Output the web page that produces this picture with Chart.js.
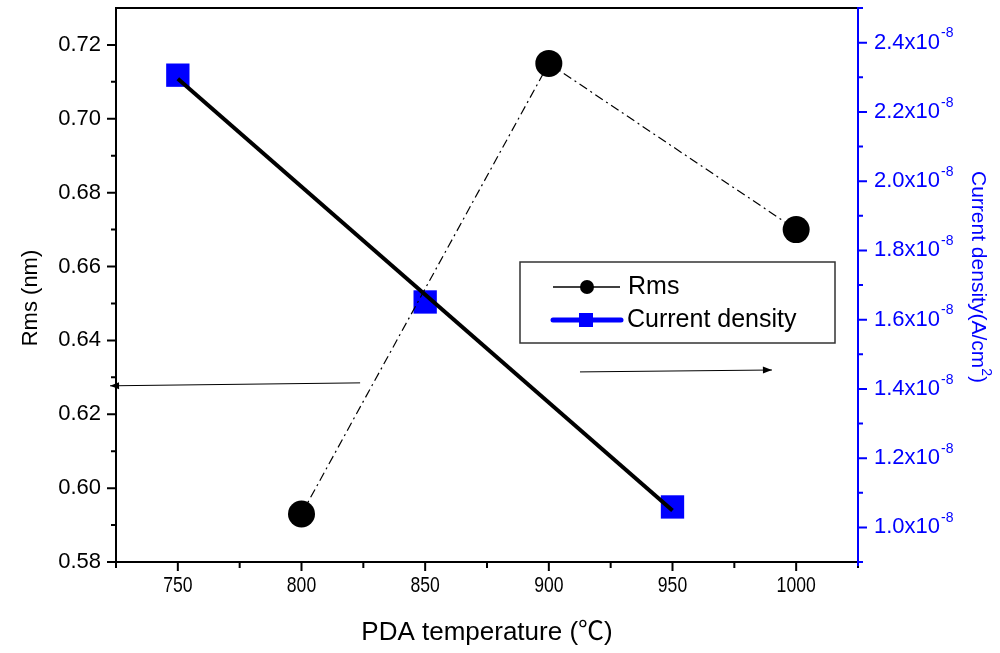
<!DOCTYPE html>
<html>
<head>
<meta charset="utf-8">
<script src="https://cdn.jsdelivr.net/npm/chart.js@4.4.0/dist/chart.umd.min.js"></script>
<style>
  html, body { margin: 0; padding: 0; background: #fff; }
  #wrap { width: 1000px; height: 653px; }
</style>
</head>
<body>
<div id="wrap"><canvas id="chart" width="1000" height="653"></canvas></div>
<script>
// surface roughness vs post deposition anneal temperature
const rmsTemps = [800, 900, 1000];
const rmsValues = [0.593, 0.715, 0.670];       // nm

// leakage current density, in units of 1e-8 A/cm2
const jTemps = [750, 850, 950];
const jValues = [2.306, 1.651, 1.059];

// straight line fitted through the current density points
const jFitTemps = [750, 950];
const jFitValues = [2.296, 1.049];

const tempTicks = [750, 800, 850, 900, 950, 1000];
const rmsTicks = [0.58, 0.60, 0.62, 0.64, 0.66, 0.68, 0.70, 0.72];
const jTicks = [1.0, 1.2, 1.4, 1.6, 1.8, 2.0, 2.2, 2.4];

// arrows telling which axis each curve belongs to: [tail, tip]
const rmsArrow = [[823.7, 0.6285], [722.6, 0.6277]];
const jArrow = [[912.6, 1.449], [990.2, 1.4545]];

const SANS = "'Liberation Sans', Arial, 'Noto Sans CJK SC', sans-serif";
const BLUE = '#0000ff';

const toTicks = list => scale => { scale.ticks = list.map(v => ({ value: v })); };

// fixed axis boxes so the plot area lands where it should
const fixBox = size => scale => {
    if (scale.isHorizontal()) scale.height = size; else scale.width = size;
    scale.paddingTop = scale.paddingBottom = scale.paddingLeft = scale.paddingRight = 0;
};

// midpoints between major ticks, plus one half step past each end when inside the range
function minorValues(list, min, max) {
    const step = list[1] - list[0];
    const out = [];
    for (let v = list[0] - step / 2; v <= max + 1e-9; v += step) {
        if (v >= min - 1e-9) out.push(v);
    }
    return out;
}

// text along a vertical line, with an optional raised part: parts = [[text, size, rise], ...]
function verticalText(ctx, cx, cy, angle, parts, color) {
    ctx.save();
    ctx.translate(cx, cy);
    ctx.rotate(angle);
    ctx.fillStyle = color;
    ctx.textAlign = 'left';
    ctx.textBaseline = 'middle';
    const widths = parts.map(([t, s]) => { ctx.font = s + 'px ' + SANS; return ctx.measureText(t).width; });
    let tx = -widths.reduce((p, w) => p + w, 0) / 2;
    parts.forEach(([t, s, rise], i) => {
        ctx.font = s + 'px ' + SANS;
        ctx.fillText(t, tx, -rise);
        tx += widths[i];
    });
    ctx.restore();
}

const axesFrame = {
    id: 'axesFrame',
    afterDraw(chart) {
        const { ctx, chartArea: a, scales } = chart;
        const x = scales.x, yl = scales.yRms, yr = scales.yJ;
        ctx.save();
        ctx.lineWidth = 2;
        ctx.lineCap = 'butt';

        // frame
        ctx.strokeStyle = '#000';
        ctx.beginPath();
        ctx.moveTo(a.left, a.top); ctx.lineTo(a.right, a.top);
        ctx.moveTo(a.left, a.top - 1); ctx.lineTo(a.left, a.bottom + 1);
        ctx.moveTo(a.left - 1, a.bottom); ctx.lineTo(a.right, a.bottom);
        ctx.stroke();

        // x ticks
        const tick = (px, len) => { ctx.moveTo(px, a.bottom); ctx.lineTo(px, a.bottom + len); };
        ctx.beginPath();
        tempTicks.forEach(v => tick(x.getPixelForValue(v), 9));
        minorValues(tempTicks, x.min, x.max).forEach(v => tick(x.getPixelForValue(v), 6));
        ctx.stroke();

        // x tick labels, set in a narrow face
        ctx.fillStyle = '#000';
        ctx.textAlign = 'center';
        ctx.textBaseline = 'middle';
        ctx.font = '22px ' + SANS;
        tempTicks.forEach(v => {
            ctx.save();
            ctx.translate(x.getPixelForValue(v), a.bottom + 24);
            ctx.scale(0.8, 1);
            ctx.fillText(String(v), 0, 0);
            ctx.restore();
        });

        // left ticks and labels
        ctx.beginPath();
        rmsTicks.forEach(v => { const py = yl.getPixelForValue(v); ctx.moveTo(a.left, py); ctx.lineTo(a.left - 9, py); });
        minorValues(rmsTicks, yl.min, yl.max - 0.005).forEach(v => { const py = yl.getPixelForValue(v); ctx.moveTo(a.left, py); ctx.lineTo(a.left - 5, py); });
        ctx.stroke();
        ctx.textAlign = 'right';
        rmsTicks.forEach(v => ctx.fillText(v.toFixed(2), a.left - 15, yl.getPixelForValue(v)));

        // right axis in blue
        ctx.strokeStyle = BLUE;
        ctx.beginPath();
        ctx.moveTo(a.right, a.top - 1); ctx.lineTo(a.right, a.bottom + 4);
        jTicks.forEach(v => { const py = yr.getPixelForValue(v); ctx.moveTo(a.right, py); ctx.lineTo(a.right + 9, py); });
        minorValues(jTicks, yr.min, yr.max).forEach(v => { const py = yr.getPixelForValue(v); ctx.moveTo(a.right, py); ctx.lineTo(a.right + 5, py); });
        ctx.stroke();

        // right tick labels with a raised exponent
        ctx.fillStyle = BLUE;
        ctx.textAlign = 'left';
        jTicks.forEach(v => {
            const py = yr.getPixelForValue(v);
            ctx.font = '22px ' + SANS;
            const base = v.toFixed(1) + 'x10';
            ctx.fillText(base, a.right + 16, py);
            const w = ctx.measureText(base).width;
            ctx.font = '14px ' + SANS;
            ctx.fillText('-8', a.right + 16 + w + 1, py - 9);
        });
        ctx.restore();

        // axis titles on both sides
        verticalText(ctx, 31, 298, -Math.PI / 2, [['Rms (nm)', 22, 0]], '#000');
        verticalText(ctx, 978, 277, Math.PI / 2,
            [['Current density(A/cm', 21, 0], ['2', 14, 8], [')', 21, 0]], BLUE);
    }
};

const notes = {
    id: 'notes',
    afterDraw(chart) {
        const { ctx, chartArea: a, scales } = chart;
        const x = scales.x, yl = scales.yRms, yr = scales.yJ;
        ctx.save();

        // arrows
        const arrow = (x0, y0, x1, y1) => {
            ctx.strokeStyle = '#000'; ctx.fillStyle = '#000'; ctx.lineWidth = 1;
            ctx.beginPath(); ctx.moveTo(x0, y0); ctx.lineTo(x1, y1); ctx.stroke();
            const ang = Math.atan2(y1 - y0, x1 - x0), L = 9, W = 3.5;
            ctx.beginPath();
            ctx.moveTo(x1, y1);
            ctx.lineTo(x1 - L * Math.cos(ang) + W * Math.sin(ang), y1 - L * Math.sin(ang) - W * Math.cos(ang));
            ctx.lineTo(x1 - L * Math.cos(ang) - W * Math.sin(ang), y1 - L * Math.sin(ang) + W * Math.cos(ang));
            ctx.closePath(); ctx.fill();
        };
        arrow(x.getPixelForValue(rmsArrow[0][0]), yl.getPixelForValue(rmsArrow[0][1]),
              x.getPixelForValue(rmsArrow[1][0]), yl.getPixelForValue(rmsArrow[1][1]));
        arrow(x.getPixelForValue(jArrow[0][0]), yr.getPixelForValue(jArrow[0][1]),
              x.getPixelForValue(jArrow[1][0]), yr.getPixelForValue(jArrow[1][1]));

        // legend box
        const bx = a.left + 404, by = a.top + 254, bw = 315, bh = 81;
        ctx.strokeStyle = '#333'; ctx.lineWidth = 1.5;
        ctx.strokeRect(bx, by, bw, bh);

        const r1 = by + 25, r2 = by + 58;
        ctx.strokeStyle = '#000'; ctx.lineWidth = 1.5;
        ctx.beginPath(); ctx.moveTo(bx + 33, r1); ctx.lineTo(bx + 100, r1); ctx.stroke();
        ctx.fillStyle = '#000';
        ctx.beginPath(); ctx.arc(bx + 67, r1, 7, 0, Math.PI * 2); ctx.fill();

        ctx.strokeStyle = BLUE; ctx.lineWidth = 5; ctx.lineCap = 'round';
        ctx.beginPath(); ctx.moveTo(bx + 33, r2); ctx.lineTo(bx + 101, r2); ctx.stroke();
        ctx.fillStyle = BLUE;
        ctx.fillRect(bx + 59, r2 - 7, 14, 14);

        ctx.fillStyle = '#000';
        ctx.font = '25px ' + SANS;
        ctx.textBaseline = 'middle';
        ctx.fillText('Rms', bx + 108, r1);
        ctx.fillText('Current density', bx + 107, r2);
        ctx.restore();
    }
};

new Chart(document.getElementById('chart'), {
    type: 'scatter',
    data: {
        datasets: [
            {
                label: 'Rms',
                data: rmsTemps.map((t, i) => ({ x: t, y: rmsValues[i] })),
                yAxisID: 'yRms', showLine: true,
                borderColor: '#000', borderWidth: 1.2, borderDash: [9, 4, 2, 4],
                pointStyle: 'circle', pointRadius: 13.5, pointBackgroundColor: '#000', pointBorderWidth: 0,
                order: 1
            },
            {
                label: 'Linear fit',
                data: jFitTemps.map((t, i) => ({ x: t, y: jFitValues[i] })),
                yAxisID: 'yJ', showLine: true,
                borderColor: '#000', borderWidth: 4, pointRadius: 0,
                order: 2
            },
            {
                label: 'Current density',
                data: jTemps.map((t, i) => ({ x: t, y: jValues[i] })),
                yAxisID: 'yJ', showLine: false,
                pointStyle: 'rect', pointRadius: 16.5, pointBackgroundColor: BLUE, pointBorderWidth: 0,
                order: 3
            }
        ]
    },
    options: {
        responsive: false, animation: false,
        layout: { autoPadding: false, padding: { top: 8, left: 0, right: 0, bottom: 0 } },
        plugins: { legend: { display: false }, tooltip: { enabled: false } },
        scales: {
            x: {
                type: 'linear', position: 'bottom', min: 725, max: 1025,
                afterBuildTicks: toTicks(tempTicks),
                afterFit: fixBox(91),
                grid: { display: false, drawTicks: false }, border: { display: false },
                ticks: { display: false },
                title: { display: true, text: 'PDA temperature (℃)', color: '#000', font: { family: SANS, size: 26 }, padding: { bottom: 5 } }
            },
            yRms: {
                type: 'linear', position: 'left', min: 0.58, max: 0.73,
                afterBuildTicks: toTicks(rmsTicks),
                afterFit: fixBox(116),
                grid: { display: false, drawTicks: false }, border: { display: false },
                ticks: { display: false },
                title: { display: false }
            },
            yJ: {
                type: 'linear', position: 'right', min: 0.9, max: 2.5,
                afterBuildTicks: toTicks(jTicks),
                afterFit: fixBox(142),
                grid: { display: false, drawTicks: false }, border: { display: false },
                ticks: { display: false },
                title: { display: false }
            }
        }
    },
    plugins: [axesFrame, notes]
});
</script>
</body>
</html>
